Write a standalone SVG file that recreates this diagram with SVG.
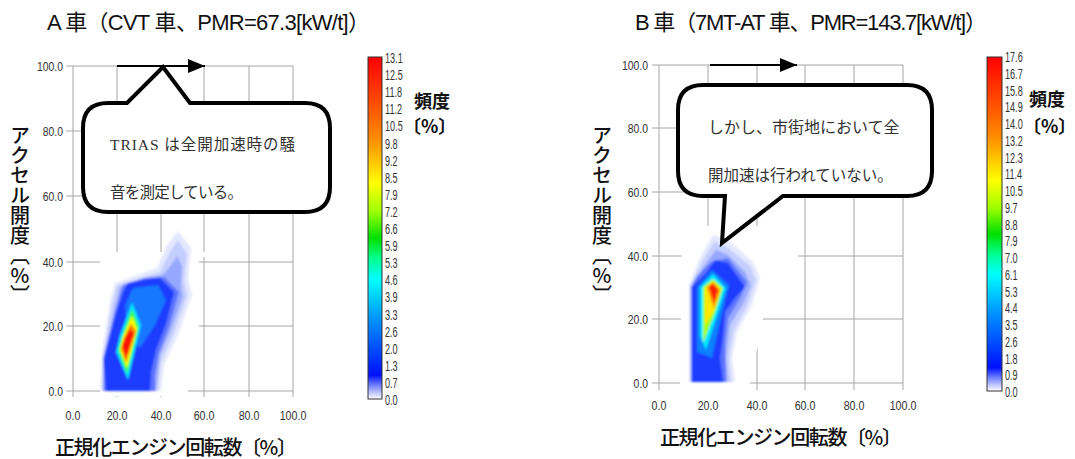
<svg xmlns="http://www.w3.org/2000/svg" width="1075" height="459" viewBox="0 0 1075 459">
<style>
.grid{stroke:#a6a6a6;stroke-width:1;fill:none}
.tick{font-family:"Liberation Sans",sans-serif;font-size:13px;fill:#333}
.cb{font-family:"Liberation Sans",sans-serif;font-size:14px;fill:#333}
.title{font-family:"Liberation Sans","Noto Sans CJK JP",sans-serif;font-size:22px;fill:#111}
.axt{font-family:"Noto Sans CJK JP",sans-serif;font-size:20px;fill:#111;font-weight:500}
.vlab{font-family:"Noto Sans CJK JP",sans-serif;font-size:20px;fill:#111;font-weight:500;writing-mode:vertical-rl;text-orientation:upright}
.unit{font-family:"Noto Sans CJK JP",sans-serif;font-size:18px;fill:#111;font-weight:bold}
.call{fill:#fff;stroke:#000;stroke-width:4;stroke-linejoin:miter}
.ctxt{font-family:"Liberation Serif","Noto Sans CJK JP",serif;fill:#333}
.arr{stroke:#000;stroke-width:2;fill:none}
.mask{fill:#fff}
</style>
<defs>
<linearGradient id="cmap" x1="0" y1="0" x2="0" y2="1">
<stop offset="0" stop-color="#ff0000"/>
<stop offset="0.12" stop-color="#ff4400"/>
<stop offset="0.24" stop-color="#ff8c00"/>
<stop offset="0.37" stop-color="#ffff00"/>
<stop offset="0.45" stop-color="#a0ff00"/>
<stop offset="0.53" stop-color="#00e000"/>
<stop offset="0.59" stop-color="#00ff90"/>
<stop offset="0.65" stop-color="#00ffff"/>
<stop offset="0.77" stop-color="#0090ff"/>
<stop offset="0.87" stop-color="#0040ff"/>
<stop offset="0.93" stop-color="#0010ff"/>
<stop offset="0.96" stop-color="#7080ff"/>
<stop offset="1" stop-color="#ffffff"/>
</linearGradient>
<filter id="soft" x="-10%" y="-10%" width="120%" height="120%"><feGaussianBlur stdDeviation="1.3"/></filter>
<marker id="ah" markerUnits="userSpaceOnUse" markerWidth="18" markerHeight="16" refX="17" refY="7" orient="auto"><path d="M0,0 L17,7 L0,14 Z" fill="#000"/></marker>
</defs>
<rect width="1075" height="459" fill="#fff"/>

<g id="chartA">
<text class="title" x="47" y="30" textLength="323">A 車（CVT 車、PMR=67.3[kW/t]）</text>
<g class="grid">
<path d="M66,66H293M66,131H293M66,196H293M66,262H293M66,326H293M66,391H293"/>
<path d="M73,66V397M117,66V397M161,66V397M204,66V397M249,66V397M293,66V397"/>
</g>
<polygon class="mask" points="100,252 207,252 207,257 199,257 199,330 188,386 188,396 100,396"/>
<g filter="url(#soft)">
<polygon fill="#e3e8ff" points="115,283 137,275 157,268 167,245 178,231 191,248 188,278 192,295 178,335 164,365 161,391 100,391 102,352 110,302"/>
<polygon fill="#c4ceff" points="117,285 140,278 160,272 170,252 178,240 187,254 184,280 187,296 174,333 161,362 158,391 102,391 104,352 112,304"/>
<polygon fill="#96a7ff" points="120,287 142,279 163,275 172,264 177,256 182,266 181,285 183,297 171,330 160,355 156,391 103,391 105,355 115,306"/>
<polygon fill="#5c74ff" points="123,285 145,278 164,277 179,292 169,327 159,353 155,375 155,391 104,391 103,358 115,312"/>
<polygon fill="#1a3cff" points="128,283 148,279 160,278 174,292 166,324 156,350 151,372 150,391 106,391 104,360 116,313 124,290"/>
<polygon fill="#1478ff" points="133,288 158,285 166,300 155,325 140,348 128,338 125,305"/>
<polygon fill="#00e0ff" points="132,302 141,325 128,380 116,352 120,335"/>
<polygon fill="#40ff40" points="132,309 139,327 127,374 118,350 122,336"/>
<polygon fill="#ffff00" points="132,316 137,329 127,368 120,350 123,337"/>
<polygon fill="#ff8c00" points="131,323 136,331 126,363 121,349 124,338"/>
<polygon fill="#ff1800" points="130,329 134,333 126,358 122,346 125,338"/>
</g>
<g class="tick" text-anchor="end">
<text transform="translate(63,70.5) scale(0.8,1)">100.0</text>
<text transform="translate(63,135.5) scale(0.8,1)">80.0</text>
<text transform="translate(63,200.5) scale(0.8,1)">60.0</text>
<text transform="translate(63,266.5) scale(0.8,1)">40.0</text>
<text transform="translate(63,330.5) scale(0.8,1)">20.0</text>
<text transform="translate(63,395.5) scale(0.8,1)">0.0</text>
</g>
<g class="tick" text-anchor="middle">
<text transform="translate(73,420) scale(0.82,1)">0.0</text>
<text transform="translate(117,420) scale(0.82,1)">20.0</text>
<text transform="translate(161,420) scale(0.82,1)">40.0</text>
<text transform="translate(204,420) scale(0.82,1)">60.0</text>
<text transform="translate(249,420) scale(0.82,1)">80.0</text>
<text transform="translate(293,420) scale(0.82,1)">100.0</text>
</g>
<text class="vlab" x="20" y="125">アクセル開度〔%〕</text>
<text class="axt" x="55" y="455" textLength="242">正規化エンジン回転数〔%〕</text>
</g>

<g id="colorbarA">
<rect x="368" y="57" width="14" height="342" fill="url(#cmap)" stroke="#333" stroke-width="1"/>
<g class="cb">
<text transform="translate(385,63) scale(0.65,1)">13.1</text>
<text transform="translate(385,80.1) scale(0.65,1)">12.5</text>
<text transform="translate(385,97.2) scale(0.65,1)">11.8</text>
<text transform="translate(385,114.3) scale(0.65,1)">11.2</text>
<text transform="translate(385,131.4) scale(0.65,1)">10.5</text>
<text transform="translate(385,148.5) scale(0.65,1)">9.8</text>
<text transform="translate(385,165.6) scale(0.65,1)">9.2</text>
<text transform="translate(385,182.7) scale(0.65,1)">8.5</text>
<text transform="translate(385,199.8) scale(0.65,1)">7.9</text>
<text transform="translate(385,216.9) scale(0.65,1)">7.2</text>
<text transform="translate(385,234) scale(0.65,1)">6.6</text>
<text transform="translate(385,251.1) scale(0.65,1)">5.9</text>
<text transform="translate(385,268.2) scale(0.65,1)">5.3</text>
<text transform="translate(385,285.3) scale(0.65,1)">4.6</text>
<text transform="translate(385,302.4) scale(0.65,1)">3.9</text>
<text transform="translate(385,319.5) scale(0.65,1)">3.3</text>
<text transform="translate(385,336.6) scale(0.65,1)">2.6</text>
<text transform="translate(385,353.7) scale(0.65,1)">2.0</text>
<text transform="translate(385,370.8) scale(0.65,1)">1.3</text>
<text transform="translate(385,387.9) scale(0.65,1)">0.7</text>
<text transform="translate(385,405) scale(0.65,1)">0.0</text>
</g>
<text class="unit" x="414" y="108">頻度</text>
<text class="unit" x="403" y="133">〔%〕</text>
</g>

<g id="chartB">
<text class="title" x="635" y="30" textLength="352">B 車（7MT-AT 車、PMR=143.7[kW/t]）</text>
<g class="grid">
<path d="M652,65H903M652,128H903M652,192H903M652,256H903M652,319H903M652,383H903"/>
<path d="M659,65V390M708,65V390M757,65V390M805,65V390M854,65V390M903,65V390"/>
</g>
<polygon class="mask" points="682,226 798,226 798,259 763,262 763,330 750,372 750,396 680,396"/>
<g filter="url(#soft)">
<polygon fill="#e3e8ff" points="700,258 713,235 728,240 753,262 760,278 752,305 737,332 732,358 735,382 689,382 689,285"/>
<polygon fill="#c4ceff" points="702,262 714,242 727,247 750,266 756,280 748,304 734,330 729,358 731,382 690,382 690,286"/>
<polygon fill="#96a7ff" points="704,266 716,250 728,255 745,272 751,285 744,302 730,325 726,358 728,382 691,382 691,287"/>
<polygon fill="#5a74ff" points="697,276 711,262 728,258 747,282 740,298 728,318 725,345 726,382 691,382 691,287"/>
<polygon fill="#1a3cff" points="692,287 707,272 715,260 728,263 745,287 735,298 725,312 723,337 720,358 723,382 692,382"/>
<polygon fill="#0a80ff" points="697,287 712,270 729,285 721,318 712,358 697,352"/>
<polygon fill="#00e8ff" points="700,287 713,274 726,288 717,316 706,350 700,336"/>
<polygon fill="#a8ff20" points="703,287 713,279 723,288 715,313 703,343"/>
<polygon fill="#ffe800" points="705,288 713,281 721,289 714,311 705,325"/>
<polygon fill="#ff9000" points="707,287 713,282 720,290 714,309"/>
<polygon fill="#ff2000" points="709,287 713,284 718,290 714,302"/>
</g>
<g class="tick" text-anchor="end">
<text transform="translate(648,69.5) scale(0.8,1)">100.0</text>
<text transform="translate(648,132.5) scale(0.8,1)">80.0</text>
<text transform="translate(648,196.5) scale(0.8,1)">60.0</text>
<text transform="translate(648,260.5) scale(0.8,1)">40.0</text>
<text transform="translate(648,323.5) scale(0.8,1)">20.0</text>
<text transform="translate(648,387.5) scale(0.8,1)">0.0</text>
</g>
<g class="tick" text-anchor="middle">
<text transform="translate(659,410) scale(0.82,1)">0.0</text>
<text transform="translate(708,410) scale(0.82,1)">20.0</text>
<text transform="translate(757,410) scale(0.82,1)">40.0</text>
<text transform="translate(805,410) scale(0.82,1)">60.0</text>
<text transform="translate(854,410) scale(0.82,1)">80.0</text>
<text transform="translate(903,410) scale(0.82,1)">100.0</text>
</g>
<text class="vlab" x="602" y="125">アクセル開度〔%〕</text>
<text class="axt" x="660" y="445" textLength="242">正規化エンジン回転数〔%〕</text>
</g>

<g id="colorbarB">
<rect x="987" y="57" width="15" height="334" fill="url(#cmap)" stroke="#333" stroke-width="1"/>
<g class="cb">
<text transform="translate(1005,62) scale(0.65,1)">17.6</text>
<text transform="translate(1005,78.75) scale(0.65,1)">16.7</text>
<text transform="translate(1005,95.5) scale(0.65,1)">15.8</text>
<text transform="translate(1005,112.25) scale(0.65,1)">14.9</text>
<text transform="translate(1005,129) scale(0.65,1)">14.0</text>
<text transform="translate(1005,145.75) scale(0.65,1)">13.2</text>
<text transform="translate(1005,162.5) scale(0.65,1)">12.3</text>
<text transform="translate(1005,179.25) scale(0.65,1)">11.4</text>
<text transform="translate(1005,196) scale(0.65,1)">10.5</text>
<text transform="translate(1005,212.75) scale(0.65,1)">9.7</text>
<text transform="translate(1005,229.5) scale(0.65,1)">8.8</text>
<text transform="translate(1005,246.25) scale(0.65,1)">7.9</text>
<text transform="translate(1005,263) scale(0.65,1)">7.0</text>
<text transform="translate(1005,279.75) scale(0.65,1)">6.1</text>
<text transform="translate(1005,296.5) scale(0.65,1)">5.3</text>
<text transform="translate(1005,313.25) scale(0.65,1)">4.4</text>
<text transform="translate(1005,330) scale(0.65,1)">3.5</text>
<text transform="translate(1005,346.75) scale(0.65,1)">2.6</text>
<text transform="translate(1005,363.5) scale(0.65,1)">1.8</text>
<text transform="translate(1005,380.25) scale(0.65,1)">0.9</text>
<text transform="translate(1005,397) scale(0.65,1)">0.0</text>
</g>
<text class="unit" x="1029" y="106">頻度</text>
<text class="unit" x="1023" y="133" font-size="16.5">〔%〕</text>
</g>

<g id="calloutA">
<path class="call" d="M108,103 L127,103 L163,67 L190,103 L305,103 Q330,103 330,128 L330,187 Q330,212 305,212 L108,212 Q83,212 83,187 L83,128 Q83,103 108,103 Z"/>
<text class="ctxt" x="110" y="150" font-size="15.5" textLength="185">TRIAS は全開加速時の騒</text>
<text class="ctxt" x="110" y="198" font-size="15.5" textLength="133">音を測定している。</text>
</g>

<g id="calloutB">
<path class="call" d="M703,85 L907,85 Q932,85 932,110 L932,171 Q932,196 907,196 L783,196 L722,243 L725,196 L703,196 Q678,196 678,171 L678,110 Q678,85 703,85 Z"/>
<text class="ctxt" x="708" y="133" font-size="16">しかし、市街地において全</text>
<text class="ctxt" x="708" y="181" font-size="15.5">開加速は行われていない。</text>
</g>

<g id="connectors">
<line class="arr" x1="117" y1="66" x2="205" y2="66" marker-end="url(#ah)"/>
<line class="arr" x1="710" y1="65" x2="797" y2="65" marker-end="url(#ah)"/>
</g>
</svg>
